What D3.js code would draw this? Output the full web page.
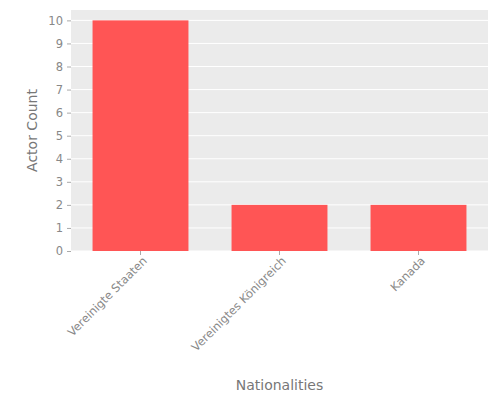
<!DOCTYPE html><html><head><meta charset="utf-8"><script src="https://d3js.org/d3.v7.min.js"></script>
<style>body{margin:0;background:#fff}</style></head><body><svg id="c" width="500" height="400"></svg><script>
const categories=["Vereinigte Staaten","Vereinigtes Königreich","Kanada"];
const values=[10,2,2];
const yTicks=[0,1,2,3,4,5,6,7,8,9,10];
const svg=d3.select("#c"),L=71,R=488,T=10,B=251;
const x=d3.scaleBand().domain(categories).range([L,R]).paddingInner(0.31).paddingOuter(0.155);
const y=d3.scaleLinear().domain([0,10.45]).range([B,T]);
const font="DejaVu Sans, sans-serif";
svg.append("rect").attr("x",L).attr("y",T).attr("width",R-L).attr("height",B-T).attr("fill","#EBEBEB");
svg.selectAll("line.g").data(yTicks).join("line").attr("x1",L).attr("x2",R).attr("y1",d=>y(d)).attr("y2",d=>y(d)).attr("stroke","#fff").attr("stroke-width",1);
svg.selectAll("rect.b").data(values).join("rect").attr("x",(d,i)=>x(categories[i])).attr("width",x.bandwidth()).attr("y",d=>y(d)).attr("height",d=>B-y(d)).attr("fill","#FF5555");
const ya=svg.append("g").attr("transform",`translate(${L},0)`).call(d3.axisLeft(y).tickValues(yTicks).tickSize(4).tickPadding(4));
const xa=svg.append("g").attr("transform",`translate(0,${B})`).call(d3.axisBottom(x).tickSize(4).tickPadding(4));
[ya,xa].forEach(a=>{a.select(".domain").remove();a.selectAll("line").attr("stroke","#aaa");a.selectAll("text").attr("fill","#888").attr("font-family",font).attr("font-size",11.5);});
xa.selectAll("text").attr("text-anchor","end").attr("dx","-0.2em").attr("dy","0.4em").attr("transform","rotate(-45)");
svg.append("text").attr("x",(L+R)/2).attr("y",390).attr("text-anchor","middle").attr("fill","#777").attr("font-family",font).attr("font-size",14).text("Nationalities");
svg.append("text").attr("transform",`translate(37,${(T+B)/2}) rotate(-90)`).attr("text-anchor","middle").attr("fill","#777").attr("font-family",font).attr("font-size",14).text("Actor Count");
</script></body></html>
